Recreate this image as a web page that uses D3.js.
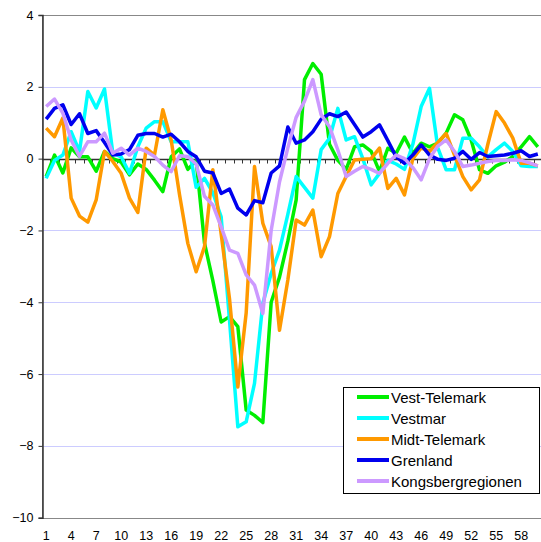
<!DOCTYPE html>
<html>
<head>
<meta charset="utf-8">
<script src="https://cdn.jsdelivr.net/npm/d3@7"></script>
<style>
  body { margin: 0; background: #fff; }
  svg { display: block; font-family: "Liberation Sans", Arial, sans-serif; }
</style>
</head>
<body>
<div id="chart"></div>
<script>
// categories 1..60
const categories = d3.range(1, 61);
const tickLabels = d3.range(1, 61, 3);
const yTicks = [4, 2, 0, -2, -4, -6, -8, -10];

const seriesNames = ["Vest-Telemark", "Vestmar", "Midt-Telemark", "Grenland", "Kongsbergregionen"];
const seriesColors = ["#00ee00", "#00ffff", "#ff9900", "#0000ee", "#cc99ff"];

const vestTelemark = [-0.5, 0.1, -0.4, 0.3, 0.05, 0.05, -0.35, 0.2, 0.0, -0.1,
  -0.45, -0.15, -0.3, -0.6, -0.92, 0.05, 0.27, -0.3, -0.05, -2.35,
  -3.4, -4.55, -4.4, -4.68, -7.0, -7.15, -7.35, -4.0, -3.3, -2.3,
  -1.15, 2.2, 2.65, 2.35, 0.4, -0.05, -0.3, 0.33, 0.38, 0.2,
  -0.36, 0.29, 0.15, 0.6, 0.15, 0.43, 0.33, 0.43, 0.71, 1.22,
  1.08, 0.52, -0.31, -0.41, -0.2, -0.1, 0.06, 0.33, 0.61, 0.33];
const vestmar = [-0.55, -0.05, 0.1, 0.75, 0.2, 1.87, 1.41, 1.94, 0.15, 0.05,
  -0.41, 0.33, 0.85, 1.03, 1.03, 0.47, 0.47, 0.47, -0.8, -0.55,
  -0.95, -1.62, -4.5, -7.47, -7.33, -6.26, -4.03, -3.2, -2.55, -1.55,
  -0.5, -0.8, -1.1, 0.25, 0.57, 1.4, 0.52, 0.61, 0.0, -0.73,
  -0.41, -0.05, -0.15, -0.3, 0.4, 1.45, 1.96, 0.3, -0.31, -0.31,
  0.57, 0.57, 0.33, 0.05, 0.25, 0.43, 0.2, -0.2, -0.22, -0.22];
const midtTelemark = [0.85, 0.61, 1.13, -1.1, -1.6, -1.77, -1.15, 0.2, -0.08, -0.41,
  -1.1, -1.5, 0.29, 0.1, 1.36, 0.52, -1.0, -2.36, -3.15, -2.45,
  -0.31, -2.1, -3.9, -6.36, -4.3, -0.22, -1.8, -2.45, -4.78, -3.38,
  -1.71, -1.85, -1.43, -2.73, -2.17, -0.97, -0.5, -0.04, -0.02, 0.0,
  0.29, -0.83, -0.55, -1.01, 0.0, 0.3, 0.2, 0.45, 0.7, 0.1,
  -0.5, -0.87, -0.59, 0.4, 1.31, 0.99, 0.57, -0.13, -0.13, -0.2];
const grenland = [1.1, 1.4, 1.5, 0.95, 1.25, 0.7, 0.78, 0.45, 0.1, 0.13,
  0.25, 0.65, 0.7, 0.7, 0.6, 0.68, 0.47, 0.2, 0.05, -0.35,
  -0.4, -0.97, -0.85, -1.38, -1.57, -1.17, -1.23, -0.4, -0.2, 0.88,
  0.43, 0.52, 0.75, 1.1, 1.25, 1.17, 1.3, 0.95, 0.6, 0.75,
  0.94, 0.5, 0.05, -0.13, 0.1, 0.38, 0.1, -0.02, -0.05, 0.01,
  0.2, -0.02, 0.17, 0.06, 0.08, 0.1, 0.15, 0.22, 0.06, 0.13];
const kongsberg = [1.45, 1.66, 1.27, 0.52, 0.06, 0.47, 0.47, 0.71, 0.15, 0.29,
  0.1, 0.29, 0.2, 0.06, -0.18, -0.36, 0.08, 0.06, -0.15, -1.05,
  -1.29, -1.9, -2.55, -2.64, -3.24, -3.52, -4.31, -2.0, -0.65, 0.3,
  1.15, 1.6, 2.2, 1.22, 0.89, 0.24, -0.5, -0.35, -0.22, -0.3,
  -0.41, -0.13, 0.1, 0.0, -0.25, -0.59, 0.0, 0.35, 0.52, 0.2,
  -0.22, -0.18, -0.13, -0.08, -0.05, -0.05, -0.03, -0.05, -0.12, -0.2];

const seriesValues = [vestTelemark, vestmar, midtTelemark, grenland, kongsberg];

const width = 541, height = 542;
const plotLeft = 42, plotRight = 542, plotTop = 15, plotBottom = 517.7;

const svg = d3.select("#chart").append("svg").attr("width", width).attr("height", height);

// categories sit between tick marks
const x = d3.scaleLinear().domain([0.5, categories.length + 0.5]).range([plotLeft, plotRight]);
const y = d3.scaleLinear().domain([-10, 4]).range([plotBottom, plotTop]);

// gridlines
svg.append("g").selectAll("line").data(yTicks.filter(d => d !== 0 && d !== 4 && d !== -10)).enter()
  .append("line")
  .attr("x1", plotLeft).attr("x2", plotRight)
  .attr("y1", d => Math.round(y(d)) + 0.5).attr("y2", d => Math.round(y(d)) + 0.5)
  .attr("stroke", "#ccccff").attr("stroke-width", 1);

// plot area border
svg.append("rect")
  .attr("x", plotLeft + 0.5).attr("y", Math.round(plotTop) + 0.5)
  .attr("width", plotRight - plotLeft).attr("height", Math.round(plotBottom) - Math.round(plotTop))
  .attr("fill", "none").attr("stroke", "#888").attr("stroke-width", 1);

// y axis
const yAxis = d3.axisLeft(y).tickValues(yTicks).tickSize(4).tickPadding(5);
svg.append("g").attr("transform", `translate(${plotLeft + 0.5},0)`).call(yAxis)
  .call(g => g.select(".domain").attr("stroke", "#333").attr("stroke-width", 1.5))
  .call(g => g.selectAll(".tick line").attr("stroke", "#333"))
  .call(g => g.selectAll("text").attr("font-size", "12.5px").attr("fill", "#000")
    .attr("font-family", "'Liberation Sans', Arial, sans-serif"));

// x axis through zero, ticks at category boundaries
const y0 = Math.round(y(0)) + 0.5;
const xAxis = svg.append("g");
xAxis.append("line").attr("x1", plotLeft).attr("x2", plotRight).attr("y1", y0).attr("y2", y0)
  .attr("stroke", "#333").attr("stroke-width", 1.5);
xAxis.selectAll("line.tick").data(d3.range(1, categories.length + 1)).enter()
  .append("line").attr("class", "tick")
  .attr("x1", d => Math.round(x(d + 0.5)) + 0.5).attr("x2", d => Math.round(x(d + 0.5)) + 0.5)
  .attr("y1", y0).attr("y2", y0 + 4)
  .attr("stroke", "#333").attr("stroke-width", 1);

// x labels at bottom
svg.append("g").selectAll("text").data(tickLabels).enter()
  .append("text")
  .attr("x", d => x(d)).attr("y", 540)
  .attr("text-anchor", "middle").attr("font-size", "12.5px").attr("fill", "#000")
  .text(d => d);

// series lines
const line = d3.line().x((d, i) => x(categories[i])).y(d => y(d));
svg.append("g").selectAll("path").data(seriesValues).enter()
  .append("path")
  .attr("d", d => line(d))
  .attr("fill", "none")
  .attr("stroke", (d, i) => seriesColors[i])
  .attr("stroke-width", 3.5)
  .attr("stroke-linejoin", "round");

// legend
const lg = svg.append("g");
lg.append("rect").attr("x", 343.5).attr("y", 387.5).attr("width", 196).attr("height", 106)
  .attr("fill", "#fff").attr("stroke", "#000").attr("stroke-width", 1);
const items = lg.selectAll("g.item").data(seriesNames).enter().append("g").attr("class", "item")
  .attr("transform", (d, i) => `translate(0,${397 + i * 21})`);
items.append("line").attr("x1", 357).attr("x2", 389).attr("y1", 0).attr("y2", 0)
  .attr("stroke", (d, i) => seriesColors[i]).attr("stroke-width", 4);
items.append("text").attr("x", 391).attr("y", 5.5).attr("font-size", "15px").attr("fill", "#000")
  .text(d => d);
</script>
</body>
</html>
